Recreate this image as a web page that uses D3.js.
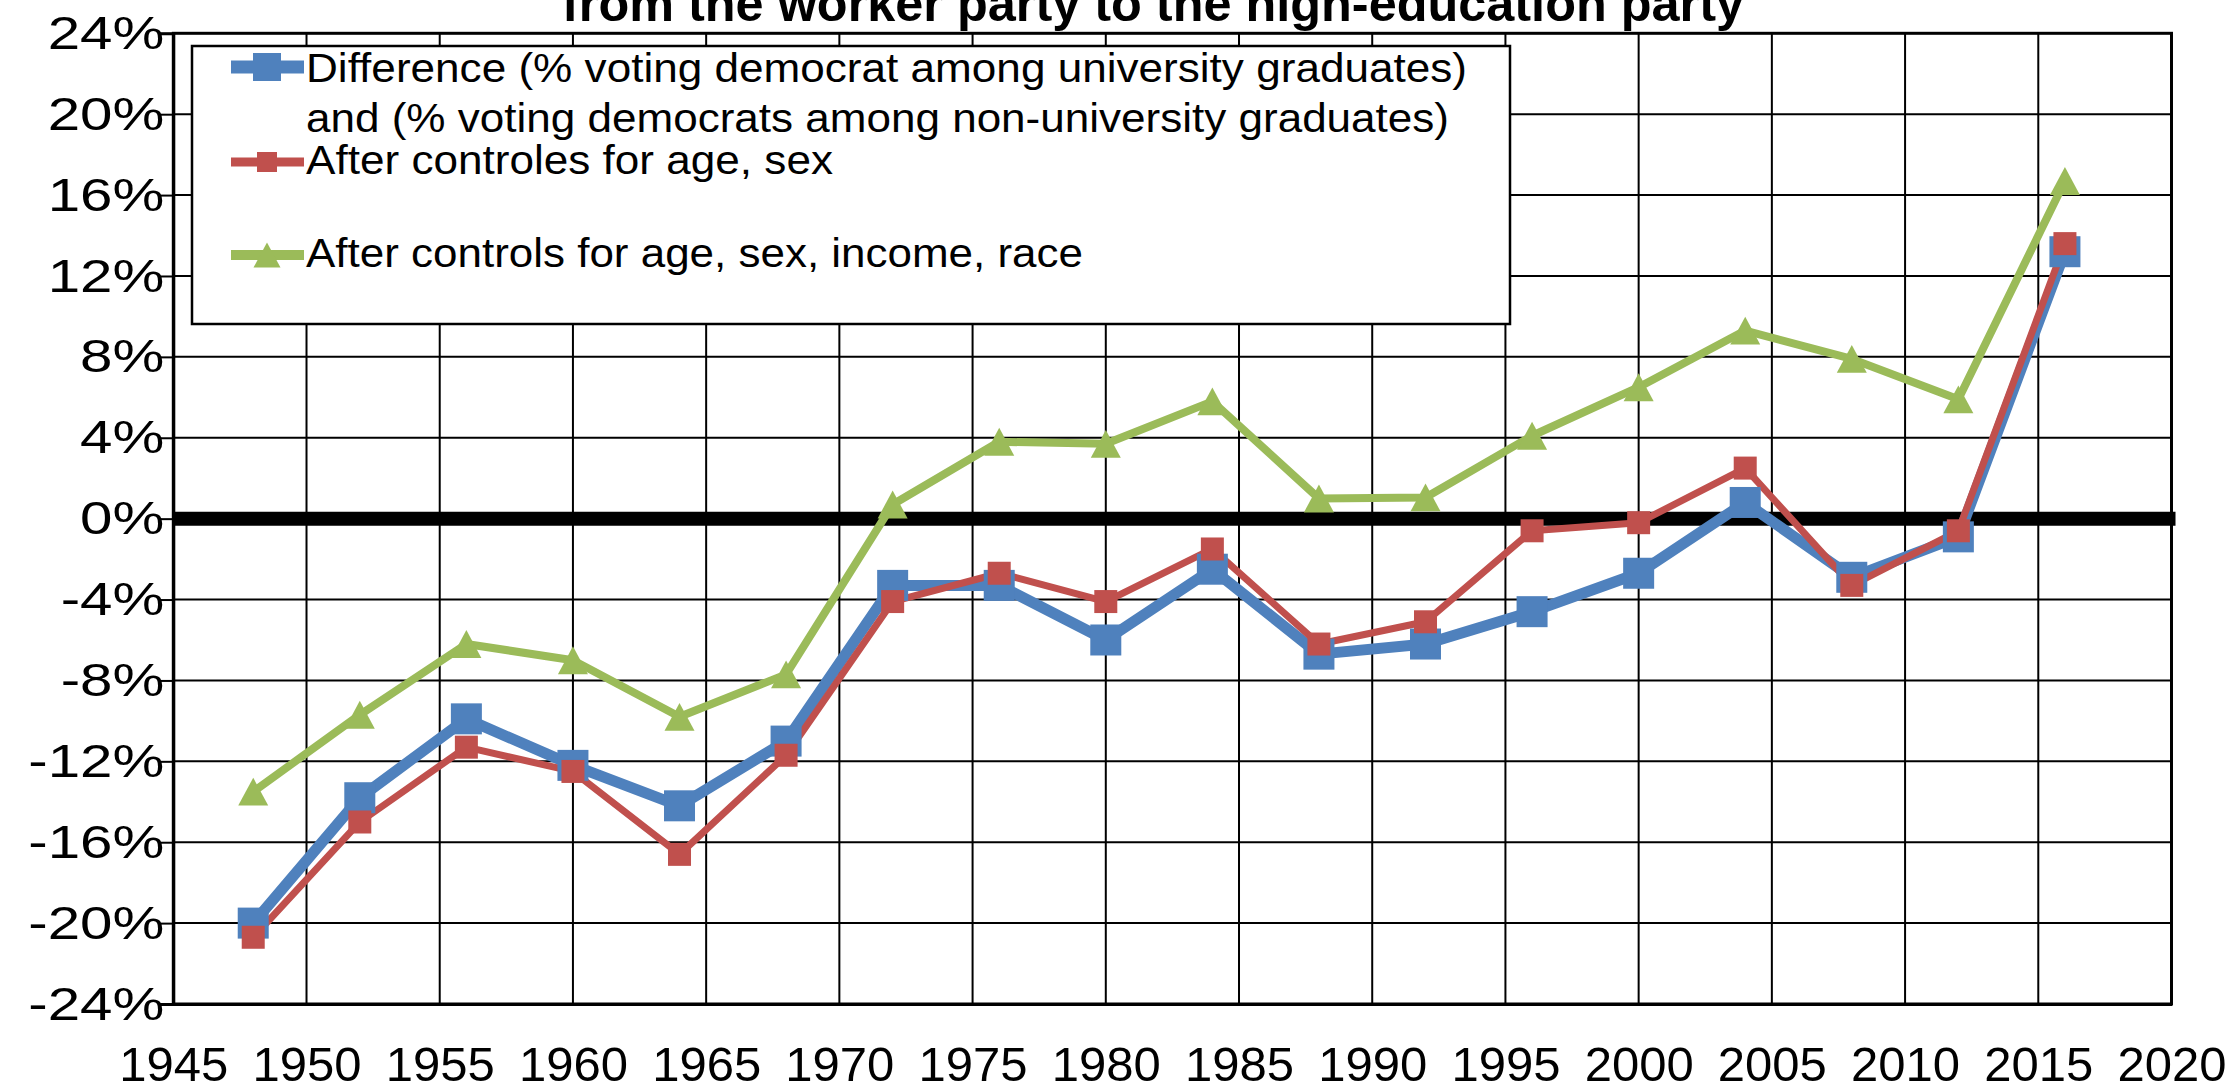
<!DOCTYPE html>
<html>
<head>
<meta charset="utf-8">
<script src="https://cdn.jsdelivr.net/npm/d3@7"></script>
<style>
  html, body { margin: 0; padding: 0; background: #fff; }
  svg { display: block; font-family: "Liberation Sans", Arial, sans-serif; }
</style>
</head>
<body>
<svg id="chart" width="2233" height="1084"></svg>
<script>
// Election years
const years = [1948, 1952, 1956, 1960, 1964, 1968, 1972, 1976, 1980, 1984,
               1988, 1992, 1996, 2000, 2004, 2008, 2012, 2016];

// Gap in Democratic vote (%): university graduates minus non-graduates
const diffRaw = [-20.0, -13.8, -9.9, -12.2, -14.2, -11.0, -3.3, -3.3, -6.0, -2.5,
                 -6.7, -6.2, -4.6, -2.7, 0.8, -2.9, -0.9, 13.2];
// Same gap after controls for age and sex
const diffAgeSex = [-20.7, -15.0, -11.3, -12.5, -16.6, -11.7, -4.1, -2.7, -4.1, -1.5,
                    -6.2, -5.1, -0.6, -0.2, 2.5, -3.3, -0.6, 13.6];
// Same gap after controls for age, sex, income and race
const diffFull = [-13.5, -9.7, -6.2, -7.0, -9.8, -7.7, 0.7, 3.8, 3.7, 5.8,
                  1.0, 1.05, 4.1, 6.5, 9.3, 7.9, 5.9, 16.7];

// Axis ticks
const xTickValues = [1945, 1950, 1955, 1960, 1965, 1970, 1975, 1980, 1985,
                     1990, 1995, 2000, 2005, 2010, 2015, 2020];
const yTickValues = [-24, -20, -16, -12, -8, -4, 0, 4, 8, 12, 16, 20, 24];

// Legend entries (first entry wraps onto two lines)
const legendLabels = [
  ["Difference (% voting democrat among university graduates)",
   "and (% voting democrats among non-university graduates)"],
  ["After controles for age, sex"],
  ["After controls for age, sex, income, race"]
];

const titleText = "from the worker party to the high-education party";

const COLORS = ["#4F81BD", "#C0504D", "#9BBB59"];

const svg = d3.select("#chart");
svg.append("rect").attr("width", 2233).attr("height", 1084).attr("fill", "#fff");

const plot = { left: 173.3, right: 2171.5, top: 33.3, bottom: 1004 };

const x = d3.scaleLinear().domain([1945, 2020]).range([plot.left, plot.right]);
const y = d3.scaleLinear().domain([-24, 24]).range([plot.bottom, plot.top]);

// Title (top partially outside the canvas)
svg.append("text")
  .attr("x", 1153).attr("y", 21)
  .attr("text-anchor", "middle")
  .attr("font-weight", "bold")
  .attr("font-size", 50)
  .attr("textLength", 1182)
  .attr("lengthAdjust", "spacingAndGlyphs")
  .text(titleText);

// Gridlines
const grid = svg.append("g").attr("stroke", "#000").attr("stroke-width", 2);
grid.selectAll("line.v").data(xTickValues.slice(1, -1)).join("line")
  .attr("class", "v")
  .attr("x1", d => x(d)).attr("x2", d => x(d))
  .attr("y1", plot.top).attr("y2", plot.bottom);
grid.selectAll("line.h").data(yTickValues.slice(1, -1)).join("line")
  .attr("class", "h")
  .attr("x1", plot.left).attr("x2", plot.right)
  .attr("y1", d => y(d)).attr("y2", d => y(d));

// Plot frame
svg.append("rect")
  .attr("x", plot.left).attr("y", plot.top)
  .attr("width", plot.right - plot.left).attr("height", plot.bottom - plot.top)
  .attr("fill", "none").attr("stroke", "#000").attr("stroke-width", 3);

// Y axis: labels are drawn wide, stretched horizontally from their right edge
const yLabelStretch = 1.24;
const yAxis = svg.append("g")
  .attr("transform", `translate(${plot.left},0)`)
  .call(d3.axisLeft(y).tickValues(yTickValues).tickSize(15).tickPadding(9)
        .tickFormat(d => d + "%"));
yAxis.select(".domain").attr("stroke-width", 3);
yAxis.selectAll(".tick line").attr("stroke-width", 2);
yAxis.selectAll(".tick text")
  .attr("font-size", 47).attr("fill", "#000")
  .attr("font-family", "'Liberation Sans', Arial, sans-serif")
  .attr("x", -9 / yLabelStretch)
  .attr("transform", `scale(${yLabelStretch},1)`);

// X axis (labels only)
const xAxis = svg.append("g")
  .attr("transform", `translate(0,${plot.bottom})`)
  .call(d3.axisBottom(x).tickValues(xTickValues).tickSize(0).tickPadding(42)
        .tickFormat(d3.format("d")));
xAxis.select(".domain").attr("stroke-width", 3);
xAxis.selectAll(".tick text")
  .attr("font-size", 49).attr("fill", "#000")
  .attr("font-family", "'Liberation Sans', Arial, sans-serif");

// Zero reference line
svg.append("line")
  .attr("x1", plot.left).attr("x2", plot.right + 4)
  .attr("y1", y(0)).attr("y2", y(0))
  .attr("stroke", "#000").attr("stroke-width", 14);

// Series
const series = [
  { values: diffRaw, color: COLORS[0], width: 11, marker: "square", size: 31 },
  { values: diffAgeSex, color: COLORS[1], width: 7, marker: "square", size: 23 },
  { values: diffFull, color: COLORS[2], width: 8, marker: "triangle", size: 30 }
];

const line = d3.line().x((d, i) => x(years[i])).y(d => y(d));

function drawMarker(g, kind, size, color) {
  if (kind === "square") {
    g.append("rect")
      .attr("x", -size / 2).attr("y", -size / 2)
      .attr("width", size).attr("height", size)
      .attr("fill", color);
  } else {
    const h = size * 0.93;
    g.append("path")
      .attr("d", `M0,${-h / 2}L${size / 2},${h / 2}L${-size / 2},${h / 2}Z`)
      .attr("fill", color);
  }
}

series.forEach(s => {
  svg.append("path")
    .datum(s.values)
    .attr("d", line)
    .attr("fill", "none")
    .attr("stroke", s.color)
    .attr("stroke-width", s.width)
    .attr("stroke-linejoin", "round");
});
series.forEach(s => {
  const m = svg.append("g");
  s.values.forEach((v, i) => {
    const g = m.append("g").attr("transform", `translate(${x(years[i])},${y(v)})`);
    drawMarker(g, s.marker, s.size, s.color);
  });
});

// Legend
const legend = svg.append("g");
legend.append("rect")
  .attr("x", 192).attr("y", 46)
  .attr("width", 1318).attr("height", 278)
  .attr("fill", "#fff").attr("stroke", "#000").attr("stroke-width", 2.5);

const legendRows = [
  { markerY: 67, baselines: [82, 132], widths: [1161, 1143] },
  { markerY: 162, baselines: [174], widths: [527] },
  { markerY: 255, baselines: [267], widths: [777] }
];

series.forEach((s, i) => {
  const row = legendRows[i];
  legend.append("line")
    .attr("x1", 231).attr("x2", 304)
    .attr("y1", row.markerY).attr("y2", row.markerY)
    .attr("stroke", s.color).attr("stroke-width", s.width + 2);
  const g = legend.append("g").attr("transform", `translate(267,${row.markerY})`);
  drawMarker(g, s.marker, s.size - 3, s.color);
  legendLabels[i].forEach((t, j) => {
    legend.append("text")
      .attr("x", 306).attr("y", row.baselines[j])
      .attr("font-size", 41)
      .attr("textLength", row.widths[j])
      .attr("lengthAdjust", "spacingAndGlyphs")
      .attr("fill", "#000")
      .text(t);
  });
});
</script>
</body>
</html>
